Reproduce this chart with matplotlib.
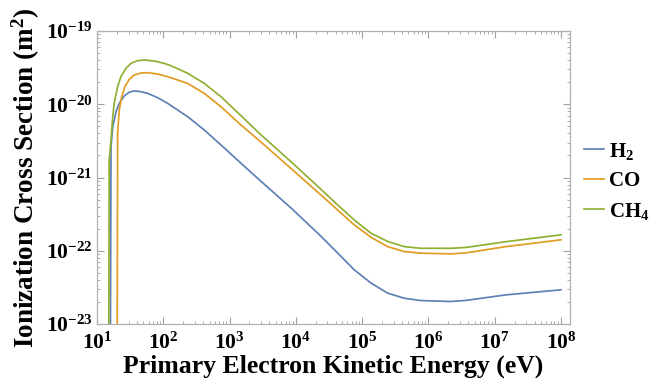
import numpy as np
import matplotlib
matplotlib.use("Agg")
import matplotlib.pyplot as plt
from matplotlib.ticker import FixedLocator, NullFormatter

# values (energy in eV, cross section in m^2)
E_h2 = [15.6, 16.3, 17.3, 19.4, 21.7, 25.8, 30.7, 36.5, 43.4, 58.2, 82.4, 116.5, 233, 415,
        741, 1485, 2806, 8950, 23900, 42700, 76000, 1.36e5, 2.43e5, 4.32e5, 7.71e5,
        2.18e6, 3.68e6, 1.48e7, 1.0e8]
sigma_h2 = [1e-26, 2.64e-21, 4.94e-21, 7.93e-21, 1.03e-20, 1.30e-20, 1.46e-20, 1.52e-20,
            1.50e-20, 1.41e-20, 1.23e-20, 1.03e-20, 6.78e-21, 4.46e-21, 2.79e-21, 1.57e-21,
            9.33e-22, 3.67e-22, 1.58e-22, 9.33e-23, 5.50e-23, 3.63e-23, 2.64e-23, 2.25e-23,
            2.09e-23, 2.03e-23, 2.10e-23, 2.50e-23, 2.93e-23]

E_co = [19.9, 20.5, 21.7, 23.6, 26.4, 30.7, 36.5, 46.1, 58.2, 82.4, 116.5, 233, 415, 741,
        1485, 2806, 8950, 23900, 42700, 76000, 1.36e5, 2.43e5, 4.32e5, 7.71e5, 2.18e6,
        3.68e6, 1.48e7, 1.0e8]
sigma_co = [1e-26, 4.02e-21, 8.35e-21, 1.27e-20, 1.74e-20, 2.19e-20, 2.51e-20, 2.67e-20,
            2.70e-20, 2.59e-20, 2.38e-20, 1.93e-20, 1.41e-20, 9.27e-21, 5.22e-21, 3.20e-21,
            1.27e-21, 5.79e-22, 3.61e-22, 2.26e-22, 1.53e-22, 1.14e-22, 9.75e-23, 9.27e-23,
            9.07e-23, 9.35e-23, 1.14e-22, 1.41e-22]

E_ch4 = [14.8, 15.3, 16.3, 17.3, 18.2, 20.5, 23.0, 27.4, 32.6, 41.1, 51.7, 73.1, 103.5,
         130.6, 233, 415, 741, 1485, 2806, 8950, 23900, 42700, 76000, 1.36e5, 2.43e5,
         4.32e5, 7.71e5, 2.18e6, 3.68e6, 1.48e7, 1.0e8]
sigma_ch4 = [1e-26, 1.74e-21, 3.26e-21, 6.78e-21, 1.03e-20, 1.74e-20, 2.38e-20, 3.10e-20,
             3.62e-20, 3.94e-20, 4.02e-20, 3.90e-20, 3.62e-20, 3.36e-20, 2.65e-20, 1.93e-20,
             1.27e-20, 7.0e-21, 4.02e-21, 1.57e-21, 6.92e-22, 4.23e-22, 2.64e-22, 1.74e-22,
             1.34e-22, 1.14e-22, 1.08e-22, 1.08e-22, 1.11e-22, 1.33e-22, 1.65e-22]

labels = ["H$_2$", "CO", "CH$_4$"]
colors = ["#5E81B5", "#E19C24", "#8FB032"]

plt.rcParams["font.family"] = "Liberation Serif"
plt.rcParams["font.weight"] = "bold"
plt.rcParams["mathtext.fontset"] = "custom"
plt.rcParams["mathtext.rm"] = "Liberation Serif:bold"
plt.rcParams["mathtext.it"] = "Liberation Serif:bold:italic"
plt.rcParams["mathtext.bf"] = "Liberation Serif:bold"

fig = plt.figure(figsize=(6.61, 3.83), dpi=100)
ax = fig.add_axes([0.1467, 0.154, 0.7156, 0.765])

for E, s, lab, c in zip([E_h2, E_co, E_ch4], [sigma_h2, sigma_co, sigma_ch4], labels, colors):
    ax.plot(E, s, color=c, lw=1.25, label=lab)

ax.set_xscale("log")
ax.set_yscale("log")
ax.set_xlim(10, 1.37e8)
ax.set_ylim(1e-23, 1e-19)

xmaj = [10.0 ** k for k in range(1, 9)]
ymaj = [10.0 ** k for k in range(-23, -18)]
ax.xaxis.set_major_locator(FixedLocator(xmaj))
ax.yaxis.set_major_locator(FixedLocator(ymaj))
ax.xaxis.set_minor_locator(FixedLocator([m * 10.0 ** k for k in range(1, 9) for m in range(2, 10)]))
ax.yaxis.set_minor_locator(FixedLocator([m * 10.0 ** k for k in range(-23, -19) for m in range(2, 10)]))
ax.set_xticklabels([f"$10^{{{k}}}$" for k in range(1, 9)])
ax.set_yticklabels([f"$10^{{{k}}}$" for k in range(-23, -18)])
ax.xaxis.set_minor_formatter(NullFormatter())
ax.yaxis.set_minor_formatter(NullFormatter())

ax.tick_params(which="both", direction="in", top=True, right=True, color="#a0a0a0", labelsize=15.5)
ax.tick_params(which="major", length=5, width=0.8)
ax.tick_params(which="minor", length=2.5, width=0.6)
ax.tick_params(axis="x", pad=6)
ax.tick_params(axis="y", pad=3)
for sp in ax.spines.values():
    sp.set_color("#b0b0b0")
    sp.set_linewidth(0.9)

ax.set_xlabel("Primary Electron Kinetic Energy (eV)", fontsize=18.5, fontweight="bold", labelpad=1)
ax.set_ylabel("Ionization Cross Section (m$^2$)", fontsize=19.5, fontweight="bold", labelpad=3)

fig.legend(loc="center left", bbox_to_anchor=(0.868, 0.527), frameon=False, fontsize=15,
           borderpad=0, handlelength=0.95, handletextpad=0.25, labelspacing=0.45)

fig.savefig("out.png", dpi=100)
